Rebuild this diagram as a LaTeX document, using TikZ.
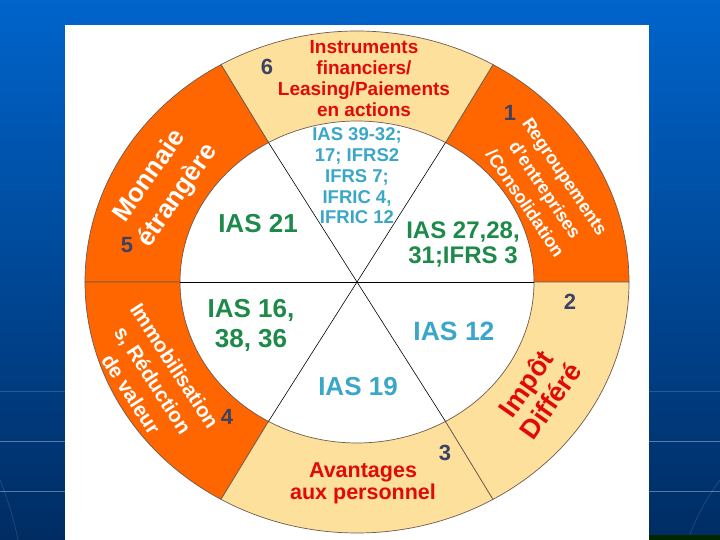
\documentclass[tikz,border=0pt]{standalone}
\usepackage{fontspec}
\setmainfont{Liberation Sans}
\definecolor{bgtop}{RGB}{0,100,204}
\definecolor{bgbot}{RGB}{0,44,98}
\definecolor{orangeC}{RGB}{255,102,0}
\definecolor{yellowC}{RGB}{253,224,156}
\definecolor{ringline}{RGB}{110,90,78}
\definecolor{redT}{RGB}{224,10,10}
\definecolor{greenT}{RGB}{30,138,74}
\definecolor{tealT}{RGB}{58,167,201}
\definecolor{numT}{RGB}{60,66,99}
\newcommand\fsz[2]{\fontsize{#1}{#2}\selectfont}
\tikzset{
  lbl/.style={inner sep=0pt, align=center, font=\bfseries},
  num/.style={lbl, text=numT, font=\bfseries\fsz{22}{24}},
  seg/.style={draw=ringline, line width=0.7pt},
  pieline/.style={draw=black, line width=0.6pt},
}
\begin{document}
\begin{tikzpicture}[x=1pt,y=1pt]
\useasboundingbox (0,0) rectangle (720,540);
% background
\shade[top color=bgtop, bottom color=bgbot] (0,0) rectangle (720,540);
\foreach \yy/\op in {99/0.35, 49/0.35, 149/0.15} {
  \draw[white, opacity=\op, line width=0.6pt] (0,\yy) -- (65,\yy);
  \draw[white, opacity=\op, line width=0.6pt] (649,\yy) -- (720,\yy);
}
\draw[white, opacity=0.15, line width=0.6pt] (0,60) .. controls (8,40) and (14,20) .. (18,0);
\draw[white, opacity=0.15, line width=0.6pt] (720,60) .. controls (705,40) and (695,20) .. (688,0);
\fill[black!85!green] (649,0) rectangle (720,5);
% white panel
\fill[white] (65,0) rectangle (649,515);
% ring and pie
\begin{scope}[shift={(357,258)}]
  \foreach \a/\b/\c in {0/60/orangeC, 60/120/yellowC, 120/180/orangeC, 180/240/orangeC, 240/300/yellowC, 300/360/yellowC} {
    \filldraw[seg, fill=\c] (\a:272 and 251) arc[start angle=\a, end angle=\b, x radius=272, y radius=251]
      -- (\b:177 and 161) arc[start angle=\b, end angle=\a, x radius=177, y radius=161] -- cycle;
  }
  \draw[pieline] (60:177 and 161) -- (240:177 and 161);
  \draw[pieline] (120:177 and 161) -- (300:177 and 161);
  \draw[pieline] (180:177 and 161) -- (0:177 and 161);
\end{scope}
% numbers
\node[num] (n6) at (267,473) {6};
\node[num] (n1) at (510,427) {1};
\node[num] (n2) at (570,238) {2};
\node[num] (n3) at (445,87) {3};
\node[num] (n4) at (227,123) {4};
\node[num] (n5) at (127,295) {5};
% ring labels
\node[lbl, text=redT, font=\bfseries\fsz{19}{21}] (instr) at (364,461) {Instruments\\financiers/\\Leasing/Paiements\\en actions};
\node[lbl, text=white, font=\bfseries\fsz{18}{24}, rotate=-56] (regr) at (545,350) {Regroupements\\d'entreprises\\/Consolidation};
\node[lbl, text=white, font=\bfseries\fsz{26}{34}, rotate=55] (monn) at (164,354) {Monnaie\\étrangère};
\node[lbl, text=white, font=\bfseries\fsz{20.5}{26}, rotate=-57] (immo) at (153,160) {Immobilisation\\s, Réduction\\de valeur};
\node[lbl, text=redT, font=\bfseries\fsz{27}{30}, rotate=55] (impot) at (538,148) {Impôt\\Différé};
\node[lbl, text=redT, font=\bfseries\fsz{21.5}{22.5}] (avant) at (363,56.5) {Avantages\\aux personnel};
% inner labels
\node[lbl, text=tealT, font=\bfseries\fsz{18.5}{20.8}] (ias39) at (357,364) {IAS 39-32;\\17; IFRS2\\IFRS 7;\\IFRIC 4,\\IFRIC 12};
\node[lbl, text=greenT, font=\bfseries\fsz{26}{28}] (ias21) at (258,316) {IAS 21};
\node[lbl, text=greenT, font=\bfseries\fsz{24}{25}] (ias27) at (463,296) {IAS 27,28,\\31;IFRS 3};
\node[lbl, text=greenT, font=\bfseries\fsz{26}{30}] (ias16) at (251,215) {IAS 16,\\38, 36};
\node[lbl, text=tealT, font=\bfseries\fsz{26.5}{28}] (ias12) at (454,209) {IAS 12};
\node[lbl, text=tealT, font=\bfseries\fsz{26}{28}] (ias19) at (358,153) {IAS 19};
\end{tikzpicture}
\end{document}
